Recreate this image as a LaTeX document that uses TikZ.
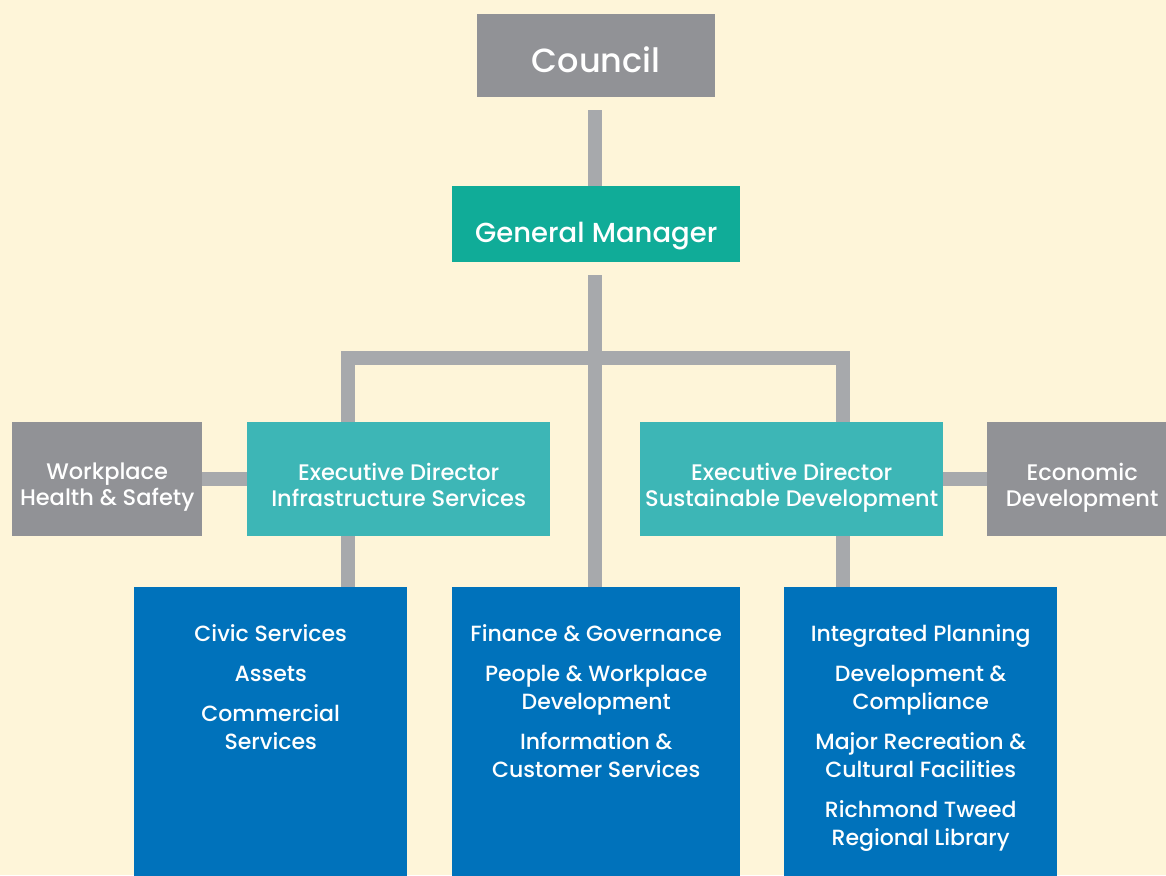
\documentclass[tikz,border=0pt]{standalone}
\usepackage{fontspec}
\setmainfont{Poppins Medium}
\definecolor{bgcream}{HTML}{FEF5D9}
\definecolor{boxgray}{HTML}{919296}
\definecolor{gmteal}{HTML}{10AC98}
\definecolor{edteal}{HTML}{3DB6B6}
\definecolor{unitblue}{HTML}{0072BB}
\definecolor{conngray}{HTML}{A7A9AC}
\tikzset{
  orgbox/.style={anchor=north west, inner sep=0pt},
  lbl/.style={anchor=north, inner sep=0pt, text=white, align=center},
  smallfont/.style={font=\fontsize{22.5}{26}\selectfont},
  unittext/.style={lbl, font=\fontsize{22}{28}\selectfont},
  conn/.style={draw=conngray, line width=14pt, line join=miter}
}
\begin{document}
\begin{tikzpicture}[x=1pt,y=-1pt]
\fill[bgcream] (0,0) rectangle (1166,875);
\useasboundingbox (0,0) rectangle (1166,875);

\coordinate (jl) at (348,358);
\coordinate (jc) at (595,358);
\coordinate (jr) at (843,358);

% boxes
\node[orgbox, fill=boxgray, minimum width=238pt, minimum height=83pt] (council) at (477,14) {};
\node[orgbox, fill=gmteal, minimum width=288pt, minimum height=76pt] (gm) at (452,186) {};
\node[orgbox, fill=boxgray, minimum width=190pt, minimum height=114pt] (whs) at (12,422) {};
\node[orgbox, fill=edteal, minimum width=303pt, minimum height=114pt] (edi) at (247,422) {};
\node[orgbox, fill=edteal, minimum width=303pt, minimum height=114pt] (eds) at (640,422) {};
\node[orgbox, fill=boxgray, minimum width=190pt, minimum height=114pt] (econ) at (987,422) {};
\node[orgbox, fill=unitblue, minimum width=273pt, minimum height=300pt] (ubl) at (134,587) {};
\node[orgbox, fill=unitblue, minimum width=288pt, minimum height=300pt] (ubc) at (452,587) {};
\node[orgbox, fill=unitblue, minimum width=273pt, minimum height=300pt] (ubr) at (784,587) {};

% texts
\node[lbl, font=\fontsize{33.5}{40}\selectfont] (councilt) at ([yshift=-33pt]council.north) {Council};
\node[lbl, font=\fontsize{27.5}{32}\selectfont] (gmt) at ([yshift=-36pt]gm.north) {General Manager};
\node[lbl, smallfont] (whst) at ([yshift=-41pt]whs.north) {Workplace\\Health \& Safety};
\node[lbl, smallfont] (edit) at ([yshift=-41pt]edi.north) {Executive Director\\Infrastructure Services};
\node[lbl, smallfont] (edst) at ([yshift=-41pt]eds.north) {Executive Director\\Sustainable Development};
\node[lbl, smallfont] (econt) at ([yshift=-41pt]econ.north) {Economic\\Development};

\node[unittext] (tl) at ([yshift=-37pt]ubl.north) {Civic Services\\[12pt]Assets\\[12pt]Commercial\\Services};
\node[unittext] (tc) at ([yshift=-37pt]ubc.north) {Finance \& Governance\\[12pt]People \& Workplace\\Development\\[12pt]Information \&\\Customer Services};
\node[unittext] (tr) at ([yshift=-37pt]ubr.north) {Integrated Planning\\[12pt]Development \&\\Compliance\\[12pt]Major Recreation \&\\Cultural Facilities\\[12pt]Richmond Tweed\\Regional Library};

% connectors
\draw[conn, shorten <=13pt] (council.south -| jc) -- (gm.north -| jc);
\draw[conn, shorten <=13pt] (gm.south -| jc) -- (ubc.north -| jc);
\draw[conn] (edi.north -| jl) -- (jl) -- (jr) -- (eds.north -| jr);
\draw[conn] (edi.south -| jl) -- (ubl.north -| jl);
\draw[conn] (eds.south -| jr) -- (ubr.north -| jr);
\draw[conn] (whs.east) -- (edi.west);
\draw[conn] (eds.east) -- (econ.west);
\end{tikzpicture}
\end{document}
